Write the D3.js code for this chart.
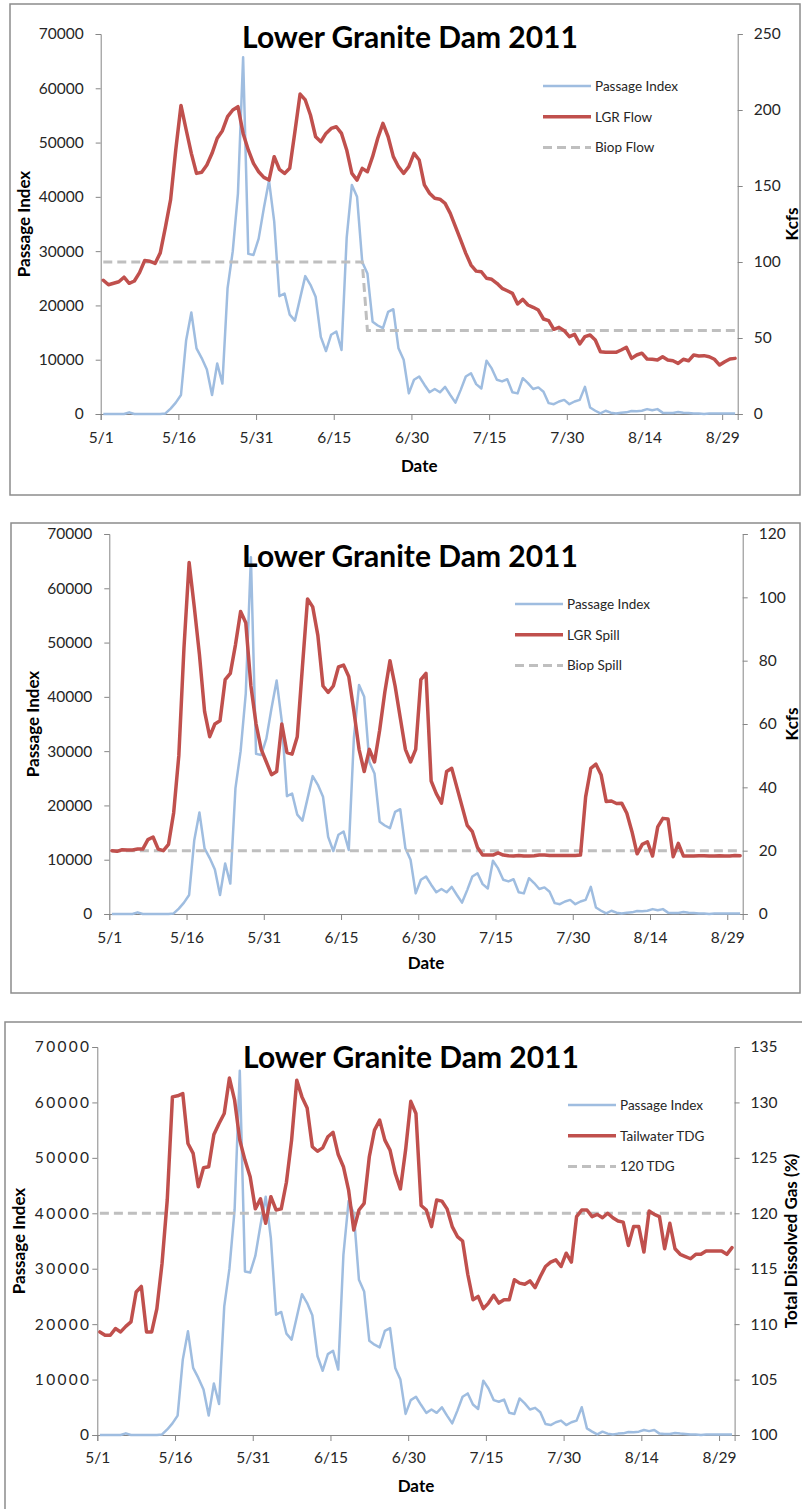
<!DOCTYPE html>
<html lang="en">
<head>
    <meta charset="UTF-8">
    <title>Lower Granite Dam 2011</title>
    <style>
        body { margin: 0; padding: 0; background: #fff; }
        svg { display: block; }
        text { font-family: Lato, "Open Sans", sans-serif; fill: #1a1a1a; }
        .axis path, .axis line { stroke: #868686; stroke-width: 1; }
        .tick text { font-size: 15.5px; fill: #262626; }
        .title { font-size: 30px; font-weight: bold; fill: #000; }
        .axis-title { font-size: 17px; font-weight: bold; fill: #000; }
        .legend text { font-size: 13.5px; fill: #262626; }
        .frame { fill: none; stroke: #8c8c8c; stroke-width: 1.5; }
    </style>
</head>
<body>
<svg id="chart" width="802" height="1509"></svg>
<script src="https://d3js.org/d3.v7.min.js"></script>
<script>
// date axis: one value per day, 5/1 .. 8/31
const firstDay = "5/1/2011";
const lastDay = "9/1/2011";
const dateTicks = ["5/1", "5/16", "5/31", "6/15", "6/30", "7/15", "7/30", "8/14", "8/29"];
const passageTicks = [0, 10000, 20000, 30000, 40000, 50000, 60000, 70000];
const flowTicks = [0, 50, 100, 150, 200, 250];
const spillTicks = [0, 20, 40, 60, 80, 100, 120];
const tdgTicks = [100, 105, 110, 115, 120, 125, 130, 135];

// fish passage index (same series in all three charts)
const passageIndex = [
    0, 0, 0, 0, 0, 300, 0, 0, 0, 0,
    0, 0, 100, 1000, 2100, 3500, 13600, 18700, 12100, 10300,
    8200, 3500, 9300, 5600, 23200, 30000, 40600, 65700, 29500, 29300,
    32300, 37900, 43000, 35500, 21700, 22200, 18300, 17200, 21300, 25400,
    23800, 21600, 14200, 11600, 14600, 15200, 11800, 32500, 42200, 40000,
    28000, 25900, 17000, 16300, 15800, 18800, 19300, 12100, 10000, 3800,
    6300, 6900, 5400, 4000, 4600, 4000, 5000, 3500, 2100, 4400,
    6900, 7500, 5500, 4700, 9800, 8400, 6300, 6000, 6400, 4000,
    3800, 6600, 5700, 4600, 4900, 4100, 2000, 1800, 2300, 2600,
    1800, 2300, 2600, 5000, 1200, 600, 100, 600, 250, 100,
    250, 300, 550, 500, 600, 900, 700, 900, 250, 200,
    200, 350, 250, 200, 100, 100, 0, 100, 100, 100,
    100, 100, 100
];

// LGR flow, kcfs
const lgrFlow = [
    88, 85, 86, 87, 90, 86, 87.5, 93, 101, 100.5,
    99, 106, 123, 141, 174, 203, 187, 171.5, 158.3, 159,
    163.8, 171.5, 181.4, 186.4, 195.6, 200, 202.2, 184.6, 173.7, 164.9,
    159.4, 155.7, 153.9, 169.3, 161, 158.3, 161.6, 185.7, 210.5, 206.6,
    196.7, 182.4, 179.1, 184.6, 187.9, 189, 184.6, 173.7, 158.3, 153.9,
    161.6, 159.4, 169.3, 181.4, 191.2, 182.4, 169.3, 162.7, 158.3, 162.7,
    171.5, 167.1, 150.7, 145.2, 141.9, 141.3, 138.6, 132, 123.2, 114.5,
    105.7, 98, 94, 93.6, 89.3, 88.6, 86, 82.7, 81.1, 79.4,
    72.4, 75.4, 71.7, 70.2, 68.4, 62.5, 61.4, 55.7, 57, 54.8,
    50.9, 52.4, 46.1, 50.9, 52, 48.7, 41, 40.6, 40.6, 40.6,
    42.1, 43.9, 36.6, 38.8, 40, 36.2, 36, 35.5, 37.7, 35.5,
    35, 33.3, 36, 35, 38.8, 38.2, 38.4, 37.7, 36, 32.2,
    34.4, 36.2, 36.6
];

// BiOp flow objective, kcfs
const biopFlow = [
    100, 100, 100, 100, 100, 100, 100, 100, 100, 100,
    100, 100, 100, 100, 100, 100, 100, 100, 100, 100,
    100, 100, 100, 100, 100, 100, 100, 100, 100, 100,
    100, 100, 100, 100, 100, 100, 100, 100, 100, 100,
    100, 100, 100, 100, 100, 100, 100, 100, 100, 100,
    100, 55, 55, 55, 55, 55, 55, 55, 55, 55,
    55, 55, 55, 55, 55, 55, 55, 55, 55, 55,
    55, 55, 55, 55, 55, 55, 55, 55, 55, 55,
    55, 55, 55, 55, 55, 55, 55, 55, 55, 55,
    55, 55, 55, 55, 55, 55, 55, 55, 55, 55,
    55, 55, 55, 55, 55, 55, 55, 55, 55, 55,
    55, 55, 55, 55, 55, 55, 55, 55, 55, 55,
    55, 55, 55
];

// LGR spill, kcfs
const lgrSpill = [
    20, 19.8, 20.3, 20.2, 20.2, 20.5, 20.5, 23.5, 24.3, 20.5,
    20, 22, 32, 50, 84, 111, 97, 82, 64, 56,
    60, 61, 74, 76, 85, 95.5, 92, 72, 60, 52,
    48, 44, 45, 60, 51, 50.5, 56, 78, 99.5, 97,
    88, 72, 70, 72, 78, 78.6, 75, 64, 52, 45,
    52, 48, 58, 70, 80, 72, 62, 52, 48, 52,
    74, 76, 42, 38, 35, 45, 46, 40, 34, 28,
    26, 21, 18.6, 18.6, 18.6, 19.3, 18.6, 18.4, 18.3, 18.5,
    18.3, 18.3, 18.4, 18.6, 18.6, 18.5, 18.5, 18.5, 18.5, 18.5,
    18.5, 18.6, 37, 46, 47.3, 44, 35.5, 35.7, 34.9, 35,
    31.8, 26, 19, 22, 22.8, 18.3, 27.5, 30.2, 30, 18.1,
    22.3, 18.3, 18.3, 18.3, 18.4, 18.4, 18.3, 18.3, 18.4, 18.3,
    18.3, 18.5, 18.4
];

// BiOp spill objective, kcfs
const biopSpill = [
    20, 20, 20, 20, 20, 20, 20, 20, 20, 20, 20, 20, 20, 20, 20, 20, 20, 20, 20, 20,
    20, 20, 20, 20, 20, 20, 20, 20, 20, 20, 20, 20, 20, 20, 20, 20, 20, 20, 20, 20,
    20, 20, 20, 20, 20, 20, 20, 20, 20, 20, 20, 20, 20, 20, 20, 20, 20, 20, 20, 20,
    20, 20, 20, 20, 20, 20, 20, 20, 20, 20, 20, 20, 20, 20, 20, 20, 20, 20, 20, 20,
    20, 20, 20, 20, 20, 20, 20, 20, 20, 20, 20, 20, 20, 20, 20, 20, 20, 20, 20, 20,
    20, 20, 20, 20, 20, 20, 20, 20, 20, 20, 20, 20, 20, 20, 20, 20, 20, 20, 20, 20,
    20, 20, 20
];

// tailwater total dissolved gas, %
const tailwaterTDG = [
    109.3, 109, 109, 109.6, 109.3, 109.8, 110.2, 112.9, 113.4, 109.3,
    109.3, 111.4, 115.5, 121.2, 130.5, 130.6, 130.8, 126.3, 125.4, 122.4,
    124.1, 124.2, 127.1, 128.1, 129, 132.2, 130.2, 126.6, 124.8, 123.3,
    120.4, 121.3, 119.1, 121.5, 120.3, 120.4, 122.8, 126.6, 132, 130.5,
    129.5, 126, 125.6, 125.9, 126.9, 127.3, 125.3, 124.2, 122.1, 118.5,
    120.3, 120.9, 125.1, 127.5, 128.4, 126.6, 125.7, 123.6, 122.2, 125.7,
    130.1, 129, 120.7, 120.3, 118.8, 121.2, 121.1, 120.4, 118.8, 117.9,
    117.5, 114.5, 112.2, 112.5, 111.4, 111.9, 112.6, 111.9, 112.2, 112.2,
    114, 113.7, 113.6, 113.9, 113.3, 114.3, 115.2, 115.6, 115.8, 115.2,
    116.4, 115.6, 119.7, 120.3, 120.3, 119.7, 119.9, 119.6, 120, 119.6,
    119.3, 119.2, 117.1, 118.8, 118.8, 116.5, 120.2, 119.9, 119.7, 116.8,
    119.1, 116.8, 116.3, 116.1, 115.9, 116.3, 116.3, 116.6, 116.6, 116.6,
    116.6, 116.3, 116.9
];

// 120% TDG limit
const tdgLimit = [
    120, 120, 120, 120, 120, 120, 120, 120, 120, 120, 120, 120, 120, 120, 120, 120, 120, 120, 120, 120,
    120, 120, 120, 120, 120, 120, 120, 120, 120, 120, 120, 120, 120, 120, 120, 120, 120, 120, 120, 120,
    120, 120, 120, 120, 120, 120, 120, 120, 120, 120, 120, 120, 120, 120, 120, 120, 120, 120, 120, 120,
    120, 120, 120, 120, 120, 120, 120, 120, 120, 120, 120, 120, 120, 120, 120, 120, 120, 120, 120, 120,
    120, 120, 120, 120, 120, 120, 120, 120, 120, 120, 120, 120, 120, 120, 120, 120, 120, 120, 120, 120,
    120, 120, 120, 120, 120, 120, 120, 120, 120, 120, 120, 120, 120, 120, 120, 120, 120, 120, 120, 120,
    120, 120, 120
];

const BLUE = "#9fbde0", RED = "#c0504d", GREY = "#bfbfbf";

const parseDay = d3.timeParse("%m/%d/%Y");
const start = parseDay(firstDay), end = parseDay(lastDay);
const days = d3.timeDay.range(start, end);
const tickDates = dateTicks.map(t => parseDay(t + "/2011"));

const svg = d3.select("#chart");

// layout of each chart box (pixels)
const panels = [
    {
        frame: [10, 4, 790, 491],
        plot: { left: 100.7, right: 737.7, top: 34, bottom: 414 },
        rightDomain: [0, 250], rightTicks: flowTicks, rightTitle: "Kcfs",
        red: lgrFlow, grey: biopFlow,
        names: ["Passage Index", "LGR Flow", "Biop Flow"],
        titleX: 410, titleY: 48, legend: { x: 543, y: 86 },
        leftTitleX: 30, rightTitleX: 798, tickY: 443, dateY: 472,
        leftPad: 12, leftSpacing: 0
    },
    {
        frame: [11, 523, 789, 470],
        plot: { left: 109.3, right: 742.7, top: 534, bottom: 914 },
        rightDomain: [0, 120], rightTicks: spillTicks, rightTitle: "Kcfs",
        red: lgrSpill, grey: biopSpill,
        names: ["Passage Index", "LGR Spill", "Biop Spill"],
        titleX: 410, titleY: 567, legend: { x: 515, y: 604 },
        leftTitleX: 39, rightTitleX: 798, tickY: 943, dateY: 969,
        leftPad: 12, leftSpacing: 0
    },
    {
        frame: [5, 1022, 820, 520],
        plot: { left: 97.3, right: 734.6, top: 1047, bottom: 1435 },
        rightDomain: [100, 135], rightTicks: tdgTicks, rightTitle: "Total Dissolved Gas (%)",
        red: tailwaterTDG, grey: tdgLimit,
        names: ["Passage Index", "Tailwater TDG", "120 TDG"],
        titleX: 411, titleY: 1068, legend: { x: 568, y: 1105 },
        leftTitleX: 25, rightTitleX: 797, tickY: 1463, dateY: 1492,
        leftPad: 1, leftSpacing: 2.3
    }
];

panels.forEach(drawPanel);

function drawPanel(p) {
    const g = svg.append("g");
    const pl = p.plot;

    g.append("rect").attr("class", "frame")
        .attr("x", p.frame[0]).attr("y", p.frame[1])
        .attr("width", p.frame[2]).attr("height", p.frame[3]);

    const x = d3.scaleTime().domain([start, end]).range([pl.left, pl.right]);
    const yLeft = d3.scaleLinear().domain([0, 70000]).range([pl.bottom, pl.top]);
    const yRight = d3.scaleLinear().domain(p.rightDomain).range([pl.bottom, pl.top]);

    // axes
    const leftAxis = g.append("g").attr("class", "axis")
        .attr("transform", `translate(${pl.left},0)`)
        .call(d3.axisLeft(yLeft).tickValues(passageTicks).tickSizeOuter(0).tickSize(5).tickPadding(p.leftPad).tickFormat(d3.format("d")));
    leftAxis.selectAll(".tick text").style("letter-spacing", p.leftSpacing + "px");
    g.append("g").attr("class", "axis")
        .attr("transform", `translate(${pl.right},0)`)
        .call(d3.axisRight(yRight).tickValues(p.rightTicks).tickSizeOuter(0).tickSize(5).tickPadding(11).tickFormat(d3.format("d")));
    const xAxis = g.append("g").attr("class", "axis")
        .attr("transform", `translate(0,${pl.bottom})`)
        .call(d3.axisBottom(x).tickValues(tickDates).tickSizeOuter(0).tickSize(6).tickFormat(d3.timeFormat("%-m/%-d")));
    xAxis.selectAll(".tick text").attr("dy", null).attr("y", p.tickY - pl.bottom);

    // series, plotted at midday of each date
    const mid = d => d3.timeHour.offset(d, 12);
    const lineLeft = d3.line().x((d, i) => x(mid(days[i]))).y(d => yLeft(d));
    const lineRight = d3.line().x((d, i) => x(mid(days[i]))).y(d => yRight(d));

    g.append("path").datum(passageIndex)
        .attr("fill", "none").attr("stroke", BLUE).attr("stroke-width", 2.5)
        .attr("stroke-linejoin", "round").attr("d", lineLeft);
    g.append("path").datum(p.grey)
        .attr("fill", "none").attr("stroke", GREY).attr("stroke-width", 3)
        .attr("stroke-dasharray", "9,5").attr("d", lineRight);
    g.append("path").datum(p.red)
        .attr("fill", "none").attr("stroke", RED).attr("stroke-width", 3.5)
        .attr("stroke-linejoin", "round").attr("stroke-linecap", "round").attr("d", lineRight);

    // titles
    g.append("text").attr("class", "title")
        .attr("x", p.titleX).attr("y", p.titleY)
        .attr("text-anchor", "middle").text("Lower Granite Dam 2011");
    g.append("text").attr("class", "axis-title")
        .attr("x", (pl.left + pl.right) / 2).attr("y", p.dateY)
        .attr("text-anchor", "middle").text("Date");
    g.append("text").attr("class", "axis-title")
        .attr("transform", `translate(${p.leftTitleX},${(pl.top + pl.bottom) / 2}) rotate(-90)`)
        .attr("text-anchor", "middle").text("Passage Index");
    g.append("text").attr("class", "axis-title")
        .attr("transform", `translate(${p.rightTitleX},${(pl.top + pl.bottom) / 2}) rotate(-90)`)
        .attr("text-anchor", "middle").text(p.rightTitle);

    // legend
    const styles = [
        { stroke: BLUE, width: 2.5, dash: null },
        { stroke: RED, width: 3.5, dash: null },
        { stroke: GREY, width: 3, dash: "9,5" }
    ];
    const lg = g.append("g").attr("class", "legend");
    p.names.forEach((name, i) => {
        const yy = p.legend.y + i * 30.8;
        lg.append("line")
            .attr("x1", p.legend.x).attr("x2", p.legend.x + 48)
            .attr("y1", yy).attr("y2", yy)
            .attr("stroke", styles[i].stroke).attr("stroke-width", styles[i].width)
            .attr("stroke-dasharray", styles[i].dash);
        lg.append("text")
            .attr("x", p.legend.x + 52).attr("y", yy)
            .attr("dy", "0.35em").text(name);
    });
}
</script>
</body>
</html>
